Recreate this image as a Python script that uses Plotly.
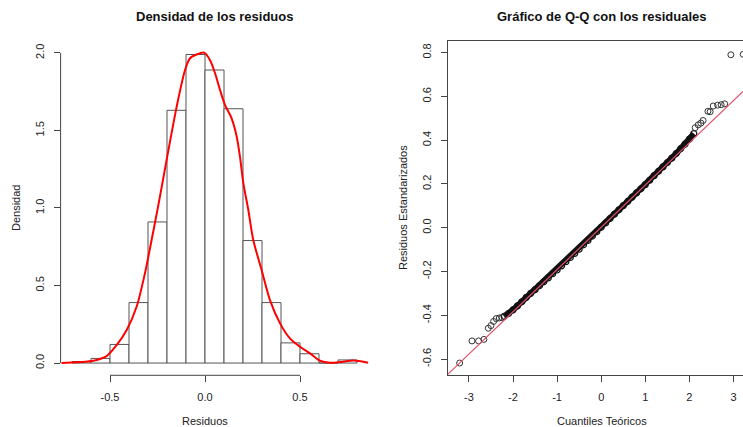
import plotly.graph_objects as go

# ---------------- data ----------------
# Histogram (density scale), bins of width 0.1
bin_left = [-0.7, -0.6, -0.5, -0.4, -0.3, -0.2, -0.1, 0.0, 0.1, 0.2, 0.3, 0.4, 0.5, 0.6, 0.7]
bin_density = [0.01, 0.03, 0.12, 0.39, 0.91, 1.63, 1.99, 1.89, 1.64, 0.79, 0.39, 0.13, 0.06, 0.0, 0.02]
bin_width = 0.1

# Kernel density curve
dens_x = [-0.755, -0.70, -0.658, -0.588, -0.518, -0.465, -0.412, -0.36, -0.316, -0.281, -0.246,
          -0.202, -0.149, -0.105, -0.079, -0.044, -0.005, 0.026, 0.053, 0.079, 0.105, 0.14,
          0.167, 0.184, 0.202, 0.228, 0.254, 0.298, 0.342, 0.395, 0.447, 0.50, 0.553, 0.605,
          0.658, 0.711, 0.781, 0.86]
dens_y = [0.0, 0.003, 0.006, 0.015, 0.045, 0.116, 0.213, 0.363, 0.579, 0.794, 1.015,
          1.31, 1.654, 1.89, 1.966, 1.99, 2.002, 1.955, 1.869, 1.761, 1.665, 1.578,
          1.46, 1.331, 1.159, 0.987, 0.794, 0.60, 0.406, 0.256, 0.159, 0.105, 0.062, 0.015,
          0.002, 0.006, 0.017, 0.002]

# Q-Q plot: isolated tail points (theoretical, sample)
tail_theo = [-3.21, -2.93, -2.78, -2.66, -2.56, -2.50, -2.44, -2.38, -2.31, -2.25,
             2.13, 2.20, 2.26, 2.31, 2.42, 2.47, 2.54, 2.64, 2.72, 2.80, 2.94, 3.22]
tail_samp = [-0.618, -0.517, -0.517, -0.510, -0.459, -0.447, -0.428, -0.415, -0.412, -0.410,
             0.457, 0.470, 0.478, 0.490, 0.532, 0.530, 0.556, 0.560, 0.562, 0.566, 0.790, 0.792]

# Q-Q plot: dense central band (theoretical, sample)
band_theo = [-2.2, -2.1, -2.0, -1.9, -1.8, -1.7, -1.6, -1.5, -1.4, -1.3, -1.2, -1.1, -1.0,
             -0.9, -0.8, -0.7, -0.6, -0.5, -0.4, -0.3, -0.2, -0.1, 0.0, 0.1, 0.2, 0.3, 0.4,
             0.5, 0.6, 0.7, 0.8, 0.9, 1.0, 1.1, 1.2, 1.3, 1.4, 1.5, 1.6, 1.7, 1.8, 1.9, 2.0, 2.1]
band_samp = [-0.405, -0.392, -0.375, -0.357, -0.338, -0.318, -0.300, -0.283, -0.265, -0.247,
             -0.229, -0.210, -0.193, -0.174, -0.155, -0.136, -0.117, -0.098, -0.078, -0.058,
             -0.038, -0.018, 0.002, 0.022, 0.042, 0.062, 0.082, 0.101, 0.120, 0.140, 0.159,
             0.178, 0.197, 0.217, 0.238, 0.258, 0.278, 0.298, 0.318, 0.339, 0.361, 0.382,
             0.405, 0.430]

# Reference line (qqline)
qq_intercept = 0.002
qq_slope = 0.193

hist_xticks = [-0.5, 0.0, 0.5]
hist_yticks = [0.0, 0.5, 1.0, 1.5, 2.0]
qq_xticks = [-3, -2, -1, 0, 1, 2, 3]
qq_yticks = [-0.6, -0.4, -0.2, 0.0, 0.2, 0.4, 0.6, 0.8]

# ---------------- layout geometry ----------------
W, H = 743, 427
FONT = "Liberation Sans, Arial, Helvetica, sans-serif"
TXT = "#222"
AX = "#444"

y_dom = [(H - 375.3) / H, (H - 41.0) / H]
x1_dom = [60.6 / W, 368.4 / W]
x2_dom = [447.5 / W, 1.0]
x1_range = [-0.76, 0.86]
y1_range = [-0.079, 2.077]
x2_range = [-3.485, 3.215]
y2_range = [-0.674, 0.853]

fig = go.Figure()

# histogram bars
fig.add_trace(go.Bar(
    x=[b + bin_width / 2 for b in bin_left], y=bin_density, width=bin_width,
    marker=dict(color="white", line=dict(color="#555", width=1)),
    xaxis="x", yaxis="y", showlegend=False, hoverinfo="skip"))
# density curve
fig.add_trace(go.Scatter(
    x=dens_x, y=dens_y, mode="lines", line=dict(color="#ff0000", width=2, shape="spline", smoothing=0.8),
    xaxis="x", yaxis="y", showlegend=False, hoverinfo="skip"))

# QQ band (dense points)
fig.add_trace(go.Scatter(
    x=band_theo, y=band_samp, mode="lines+markers",
    line=dict(color="#111", width=6),
    marker=dict(symbol="circle-open", size=6, color="#111", line=dict(width=1.2)),
    xaxis="x2", yaxis="y2", showlegend=False, hoverinfo="skip"))
# QQ tail points
fig.add_trace(go.Scatter(
    x=tail_theo, y=tail_samp, mode="markers",
    marker=dict(symbol="circle-open", size=6, color="#333", line=dict(width=1)),
    xaxis="x2", yaxis="y2", showlegend=False, hoverinfo="skip", cliponaxis=True))
# QQ reference line
fig.add_trace(go.Scatter(
    x=x2_range, y=[qq_intercept + qq_slope * v for v in x2_range], mode="lines",
    line=dict(color="#DF536B", width=1.2),
    xaxis="x2", yaxis="y2", showlegend=False, hoverinfo="skip"))

tickfont = dict(family=FONT, size=11, color=TXT)
common = dict(ticks="outside", ticklen=6, tickcolor=AX, tickwidth=1, showgrid=False,
              zeroline=False, tickfont=tickfont)

fig.update_layout(
    width=W, height=H, margin=dict(l=0, r=0, t=0, b=0),
    paper_bgcolor="white", plot_bgcolor="white",
    bargap=0,
    xaxis=dict(domain=x1_dom, range=x1_range, tickvals=hist_xticks,
               ticktext=["-0.5", "0.0", "0.5"], showline=False, anchor="y",
               ticklabelstandoff=5, **common),
    yaxis=dict(domain=y_dom, range=y1_range, tickvals=hist_yticks,
               ticktext=["0.0", "0.5", "1.0", "1.5", "2.0"], showline=False, anchor="x",
               tickangle=-90, ticklabelstandoff=5, **common),
    xaxis2=dict(domain=x2_dom, range=x2_range, tickvals=qq_xticks,
                ticktext=[str(v) for v in qq_xticks], showline=True, linecolor=AX,
                linewidth=1, mirror=True, anchor="y2", ticklabelstandoff=5, **common),
    yaxis2=dict(domain=y_dom, range=y2_range, tickvals=qq_yticks,
                ticktext=[f"{v:.1f}" for v in qq_yticks], showline=True, linecolor=AX,
                linewidth=1, mirror=False, anchor="x2", tickangle=-90,
                ticklabelstandoff=5, **common),
    shapes=[
        dict(type="line", xref="x", yref="paper", x0=hist_xticks[0], x1=hist_xticks[-1],
             y0=y_dom[0], y1=y_dom[0], line=dict(color=AX, width=1)),
        dict(type="line", xref="paper", yref="y", x0=x1_dom[0], x1=x1_dom[0],
             y0=hist_yticks[0], y1=hist_yticks[-1], line=dict(color=AX, width=1)),
    ],
    annotations=[
        dict(text="<b>Densidad de los residuos</b>", x=(x1_dom[0] + x1_dom[1]) / 2, y=(H - 16) / H,
             xref="paper", yref="paper", showarrow=False, xanchor="center", yanchor="middle",
             font=dict(family=FONT, size=13, color="#111")),
        dict(text="<b>Gráfico de Q-Q con los residuales</b>", x=602 / W, y=(H - 16) / H,
             xref="paper", yref="paper", showarrow=False, xanchor="center", yanchor="middle",
             font=dict(family=FONT, size=13, color="#111")),
        dict(text="Residuos", x=205 / W, y=(H - 421) / H, xref="paper", yref="paper",
             showarrow=False, xanchor="center", yanchor="middle",
             font=dict(family=FONT, size=11, color=TXT)),
        dict(text="Cuantiles Teóricos", x=602 / W, y=(H - 421) / H, xref="paper", yref="paper",
             showarrow=False, xanchor="center", yanchor="middle",
             font=dict(family=FONT, size=11, color=TXT)),
        dict(text="Densidad", x=16 / W, y=(H - 208) / H, xref="paper", yref="paper",
             showarrow=False, xanchor="center", yanchor="middle", textangle=-90,
             font=dict(family=FONT, size=11, color=TXT)),
        dict(text="Residuos Estandarizados", x=403 / W, y=(H - 208) / H, xref="paper", yref="paper",
             showarrow=False, xanchor="center", yanchor="middle", textangle=-90,
             font=dict(family=FONT, size=11, color=TXT)),
    ],
)

fig.write_html(
    "out.html",
    config={"displayModeBar": False, "staticPlot": True},
    post_script="document.body.style.margin='0px';document.body.style.padding='0px';"
                "document.body.style.overflow='hidden';",
)
